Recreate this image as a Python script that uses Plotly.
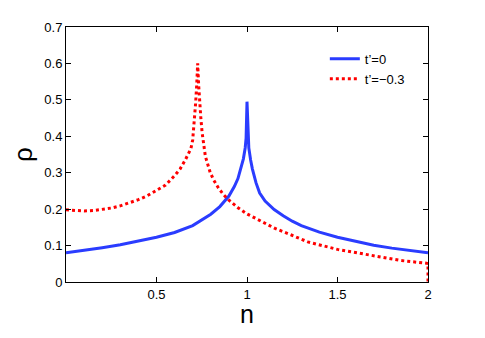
import plotly.graph_objects as go

# t'=0 curve
blue_n = [0, 0.1, 0.2, 0.3, 0.4, 0.5, 0.6, 0.7, 0.8, 0.85, 0.9, 0.93, 0.95, 0.97, 0.98, 0.99, 0.995, 1.0,
          1.005, 1.01, 1.02, 1.03, 1.05, 1.07, 1.1, 1.15, 1.2, 1.25, 1.3, 1.4, 1.5, 1.6, 1.7, 1.8, 1.9, 2.0]
blue_rho = [0.080, 0.086, 0.094, 0.102, 0.112, 0.123, 0.136, 0.155, 0.186, 0.207, 0.236, 0.262, 0.284, 0.318,
            0.338, 0.368, 0.395, 0.495,
            0.395, 0.368, 0.335, 0.310, 0.272, 0.244, 0.222, 0.199, 0.182, 0.167, 0.155, 0.137, 0.123, 0.111,
            0.101, 0.093, 0.086, 0.080]

# t'=-0.3 curve
red_n = [0, 0.05, 0.1, 0.15, 0.2, 0.25, 0.3, 0.35, 0.4, 0.45, 0.5, 0.55, 0.6, 0.63, 0.66, 0.69, 0.7, 0.707,
         0.716, 0.722, 0.7275, 0.733, 0.737, 0.745, 0.752, 0.77, 0.797, 0.816, 0.842, 0.87, 0.897, 0.95, 1.0,
         1.064, 1.155, 1.245, 1.336, 1.5, 1.7, 1.85, 2.0, 2.0]
red_rho = [0.198, 0.196, 0.195, 0.196, 0.199, 0.203, 0.209, 0.217, 0.226, 0.237, 0.251, 0.266, 0.292, 0.310,
           0.336, 0.366, 0.390, 0.428, 0.490, 0.540, 0.600, 0.540, 0.500, 0.450, 0.410, 0.345, 0.300, 0.280,
           0.258, 0.240, 0.226, 0.204, 0.187, 0.170, 0.147, 0.129, 0.110, 0.0895, 0.071, 0.059, 0.051, 0.0]

fig = go.Figure()
fig.add_trace(go.Scatter(x=blue_n, y=blue_rho, mode="lines", name="t\u2019=0",
                         line=dict(color="#2a3cff", width=3)))
fig.add_trace(go.Scatter(x=red_n, y=red_rho, mode="lines", name="t\u2019=\u22120.3",
                         line=dict(color="#ff0000", width=3, dash="dot")))

axis_common = dict(showline=True, linecolor="black", linewidth=1, mirror="ticks", ticks="inside",
                   ticklen=5, tickcolor="black", showgrid=False, zeroline=False,
                   tickfont=dict(family="Liberation Sans", size=13, color="black"))

fig.update_xaxes(range=[0, 2], tickvals=[0.5, 1, 1.5, 2], ticktext=["0.5", "1", "1.5", "2"],
                 **axis_common)
fig.update_yaxes(range=[0, 0.7], tickvals=[0, 0.1, 0.2, 0.3, 0.4, 0.5, 0.6, 0.7],
                 ticktext=["0", "0.1", "0.2", "0.3", "0.4", "0.5", "0.6", "0.7"],
                 title=dict(text="\u03c1", font=dict(family="Liberation Sans", size=26, color="black"), standoff=6),
                 **axis_common)

# x label placed as annotation so it sits close to the tick labels
fig.add_annotation(text="n", x=0.5, y=-0.126, xref="paper", yref="paper", showarrow=False,
                   xanchor="center", yanchor="middle",
                   font=dict(family="Liberation Sans", size=25, color="black"))

# page body has an 8px margin, so the figure is a little smaller than the window
fig.update_layout(
    width=477, height=330,
    margin=dict(l=55, r=57, t=16, b=56),
    plot_bgcolor="white", paper_bgcolor="white",
    legend=dict(x=0.715, y=0.934, xanchor="left", yanchor="top", bgcolor="rgba(0,0,0,0)",
                font=dict(family="Liberation Sans", size=13, color="black"),
                itemwidth=30, tracegroupgap=0),
)

fig.write_html("out.html")
